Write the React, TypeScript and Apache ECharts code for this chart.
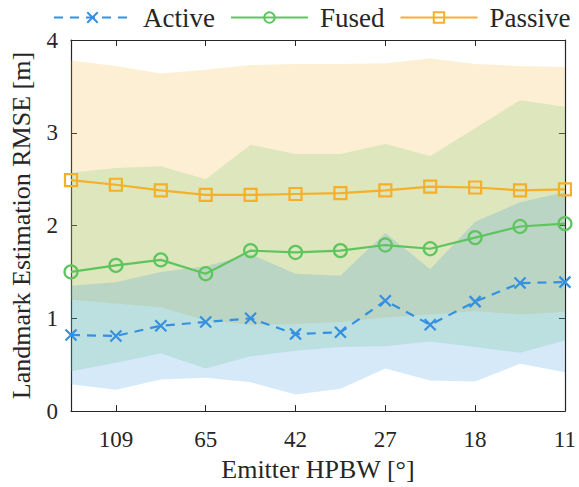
import React, { useEffect, useRef } from "react";
import * as echarts from "echarts";

// Measurement positions along the beamwidth sweep (index of each setting)
const positions = [0, 1, 2, 3, 4, 5, 6, 7, 8, 9, 10, 11];

// Labelled beamwidth ticks
const tickPositions = [1, 3, 5, 7, 9, 11];
const tickLabels = ["109", "65", "42", "27", "18", "11"];

// Mean RMSE and standard deviation per setting
const activeMean = [0.82, 0.81, 0.92, 0.96, 1.0, 0.83, 0.85, 1.19, 0.93, 1.18, 1.38, 1.39];
const activeStd = [0.53, 0.58, 0.58, 0.6, 0.69, 0.65, 0.61, 0.73, 0.6, 0.86, 0.87, 0.97];

const fusedMean = [1.5, 1.57, 1.63, 1.48, 1.73, 1.71, 1.73, 1.79, 1.75, 1.87, 1.99, 2.02];
const fusedStd = [1.07, 1.05, 1.01, 1.02, 1.14, 1.06, 1.04, 1.09, 1.0, 1.18, 1.36, 1.26];

const passiveMean = [2.49, 2.44, 2.38, 2.33, 2.33, 2.34, 2.35, 2.38, 2.42, 2.41, 2.38, 2.39];
const passiveStd = [1.29, 1.28, 1.26, 1.35, 1.4, 1.4, 1.39, 1.37, 1.38, 1.33, 1.34, 1.32];

const BLUE = "#3490e0";
const GREEN = "#5ec55e";
const ORANGE = "#f5b02a";
const INK = "#262626";
const FONT = "'Liberation Serif', 'Times New Roman', serif";

function bandSeries(name: string, mean: number[], std: number[], color: string) {
  const lower = mean.map((m, i) => m - std[i]);
  const upper = mean.map((m, i) => m + std[i]);
  return {
    type: "custom",
    name,
    silent: true,
    z: 1,
    data: positions.map((x, i) => [x, lower[i], upper[i]]),
    encode: { x: 0, y: [1, 2] },
    renderItem: (params: any, api: any) => {
      if (params.dataIndex !== 0) return null;
      const top = positions.map((x, i) => api.coord([x, upper[i]]));
      const bottom = positions.map((x, i) => api.coord([x, lower[i]])).reverse();
      return {
        type: "polygon",
        shape: { points: [...top, ...bottom] },
        style: { fill: color, opacity: 0.2 },
      };
    },
  };
}

function lineSeries(
  name: string,
  mean: number[],
  color: string,
  symbol: string,
  symbolSize: number,
  dashed: boolean
) {
  return {
    type: "line",
    name,
    z: 5,
    data: positions.map((x, i) => [x, mean[i]]),
    symbol,
    symbolSize,
    showAllSymbol: true,
    lineStyle: { color, width: 2.2, type: dashed ? [9, 7] : "solid" },
    itemStyle: {
      color: symbol.startsWith("path://") ? color : "rgba(0,0,0,0)",
      borderColor: color,
      borderWidth: 2.2,
    },
    emphasis: { disabled: true },
  };
}

export default function App() {
  const ref = useRef<HTMLDivElement>(null);

  useEffect(() => {
    if (!ref.current) return;
    const chart = echarts.init(ref.current, undefined, { renderer: "svg" });

    const tickStyle = { show: true, inside: true, length: 6, lineStyle: { color: INK, width: 1 } };
    const lineAxis = { show: true, onZero: false, lineStyle: { color: INK, width: 1.2 } };

    chart.setOption({
      animation: false,
      backgroundColor: "#ffffff",
      textStyle: { fontFamily: FONT },
      grid: { left: 61, right: 12, top: 40, bottom: 75 },
      legend: {
        data: ["Active", "Fused", "Passive"],
        left: 53,
        top: 4,
        padding: 0,
        itemWidth: 77,
        itemHeight: 13,
        itemGap: 15,
        textStyle: { fontFamily: FONT, fontSize: 27, color: INK, padding: [0, 0, 0, 7] },
      },
      xAxis: [
        {
          type: "value",
          min: 0,
          max: 11,
          position: "bottom",
          axisLine: lineAxis,
          axisTick: { ...tickStyle, customValues: tickPositions },
          axisLabel: {
            customValues: tickPositions,
            formatter: (v: number) => tickLabels[tickPositions.indexOf(v)] ?? "",
            fontFamily: FONT,
            fontSize: 23,
            color: INK,
            margin: 17,
          },
          splitLine: { show: false },
          name: "Emitter HPBW [°]",
          nameLocation: "middle",
          nameGap: 43,
          nameTextStyle: { fontFamily: FONT, fontSize: 26, color: INK },
        },
        {
          type: "value",
          min: 0,
          max: 11,
          position: "top",
          axisLine: lineAxis,
          axisTick: { ...tickStyle, customValues: tickPositions },
          axisLabel: { show: false },
          splitLine: { show: false },
        },
      ],
      yAxis: [
        {
          type: "value",
          min: 0,
          max: 4,
          interval: 1,
          position: "left",
          axisLine: lineAxis,
          axisTick: tickStyle,
          axisLabel: { fontFamily: FONT, fontSize: 23, color: INK, margin: 13 },
          splitLine: { show: false },
          name: "Landmark Estimation RMSE [m]",
          nameLocation: "middle",
          nameGap: 37,
          nameTextStyle: { fontFamily: FONT, fontSize: 26, color: INK },
        },
        {
          type: "value",
          min: 0,
          max: 4,
          interval: 1,
          position: "right",
          axisLine: lineAxis,
          axisTick: tickStyle,
          axisLabel: { show: false },
          splitLine: { show: false },
        },
      ],
      series: [
        bandSeries("Passive spread", passiveMean, passiveStd, ORANGE),
        bandSeries("Fused spread", fusedMean, fusedStd, GREEN),
        bandSeries("Active spread", activeMean, activeStd, BLUE),
        lineSeries("Active", activeMean, BLUE, "path://M0,0L10,10M10,0L0,10", 11, true),
        lineSeries("Fused", fusedMean, GREEN, "circle", 13, false),
        lineSeries("Passive", passiveMean, ORANGE, "rect", 12, false),
      ],
    });

    return () => chart.dispose();
  }, []);

  return (
    <div
      ref={ref}
      style={{ position: "fixed", left: 0, top: 0, width: 579, height: 487 }}
    />
  );
}
